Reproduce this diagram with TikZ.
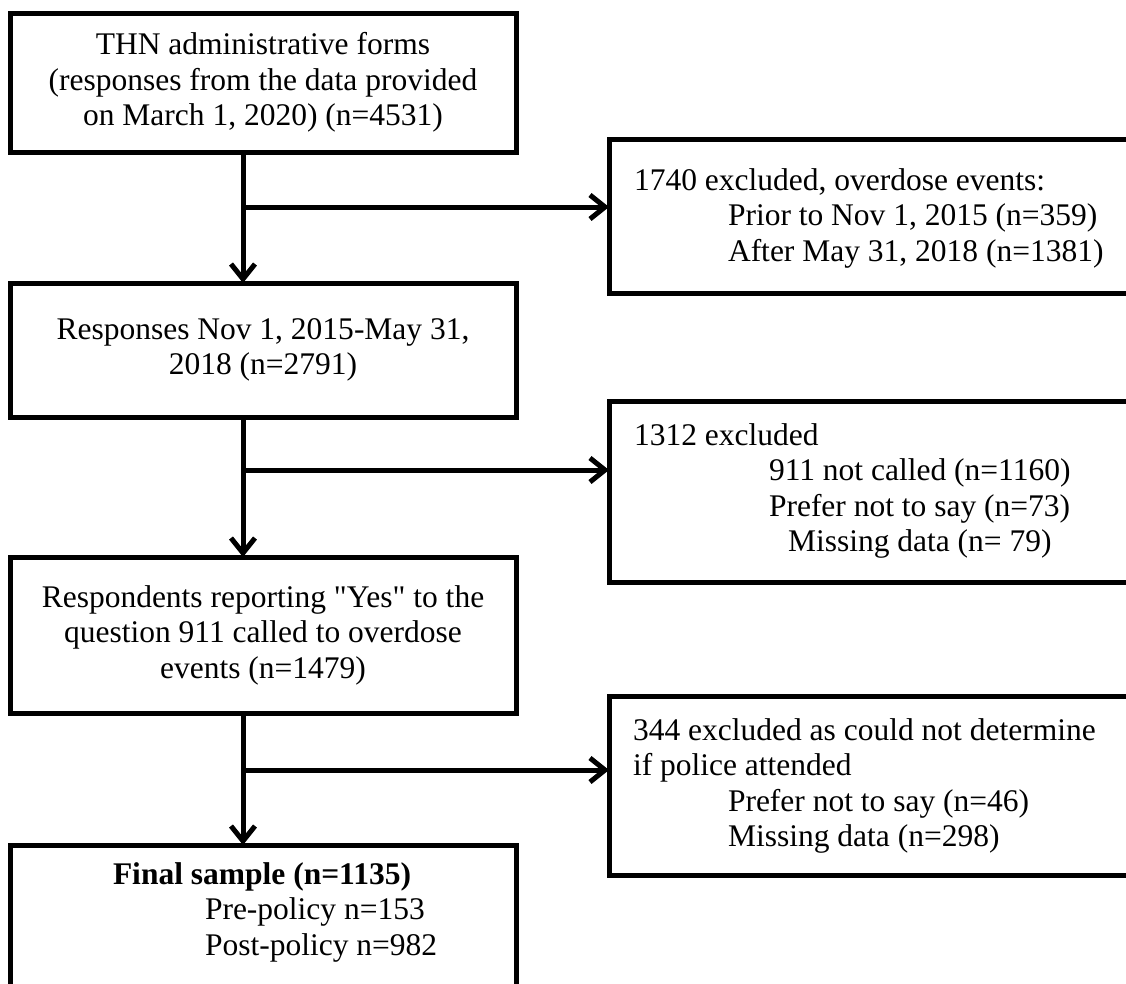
\documentclass[tikz,border=0pt]{standalone}
\usepackage{fontspec}
\setmainfont{Liberation Serif}[Ligatures=TeXOff]
\usetikzlibrary{arrows.meta}
\begin{document}
\begin{tikzpicture}[x=1pt,y=-1pt,
  box/.style={draw, rectangle, line width=5pt, inner sep=0pt, outer sep=0pt, anchor=north west},
  txt/.style={font=\fontsize{31.5}{35.5}\selectfont, inner sep=0pt, outer sep=0pt},
  arr/.style={line width=5pt, -{Straight Barb[length=15pt,width=24pt]}}]
\useasboundingbox (0,0) rectangle (1126,983);
\clip (0,0) rectangle (1126,983);
% left column boxes
\node[box, minimum width=506pt, minimum height=139pt] (b1) at (10,13) {};
\node[box, minimum width=506pt, minimum height=134pt] (b2) at (10,283) {};
\node[box, minimum width=506pt, minimum height=156pt] (b3) at (10,557) {};
\node[box, minimum width=506pt, minimum height=200pt] (b4) at (10,845) {};
% right column boxes
\node[box, minimum width=560pt, minimum height=154pt] (r1) at (609,139) {};
\node[box, minimum width=560pt, minimum height=181pt] (r2) at (609,401) {};
\node[box, minimum width=560pt, minimum height=179pt] (r3) at (609,696) {};
% texts
\node[txt, align=center] (t1) at (b1.center) {THN administrative forms\\(responses from the data provided\\on March 1, 2020) (n=4531)};
\node[txt, align=center] (t2) at (b2.center) {Responses Nov 1, 2015-May 31,\\2018 (n=2791)};
\node[txt, align=center] (t3) at (b3.center) {Respondents reporting "Yes" to the\\question 911 called to overdose\\events (n=1479)};
\node[txt, align=left, anchor=west] (t4) at (113,912) {\textbf{Final sample (n=1135)}\\\hspace*{92pt}Pre-policy n=153\\\hspace*{92pt}Post-policy n=982};
\node[txt, align=left, anchor=west] (s1) at (634,218) {1740 excluded, overdose events:\\\hspace*{94pt}Prior to Nov 1, 2015 (n=359)\\\hspace*{94pt}After May 31, 2018 (n=1381)};
\node[txt, align=left, anchor=west] (s2) at (634,491) {1312 excluded\\\hspace*{135pt}911 not called (n=1160)\\\hspace*{135pt}Prefer not to say (n=73)\\\hspace*{154pt}Missing data (n= 79)};
\node[txt, align=left, anchor=west] (s3) at (633,786) {344 excluded as could not determine\\if police attended\\\hspace*{95pt}Prefer not to say (n=46)\\\hspace*{95pt}Missing data (n=298)};
% connectors
\coordinate (j1) at (243,207);
\coordinate (j2) at (243,470);
\coordinate (j3) at (243,770);
\draw[arr] (b1.south -| j1) -- (b2.north -| j1);
\draw[arr] (j1) -- (r1.west |- j1);
\draw[arr] (b2.south -| j2) -- (b3.north -| j2);
\draw[arr] (j2) -- (r2.west |- j2);
\draw[arr] (b3.south -| j3) -- (b4.north -| j3);
\draw[arr] (j3) -- (r3.west |- j3);
\end{tikzpicture}
\end{document}
